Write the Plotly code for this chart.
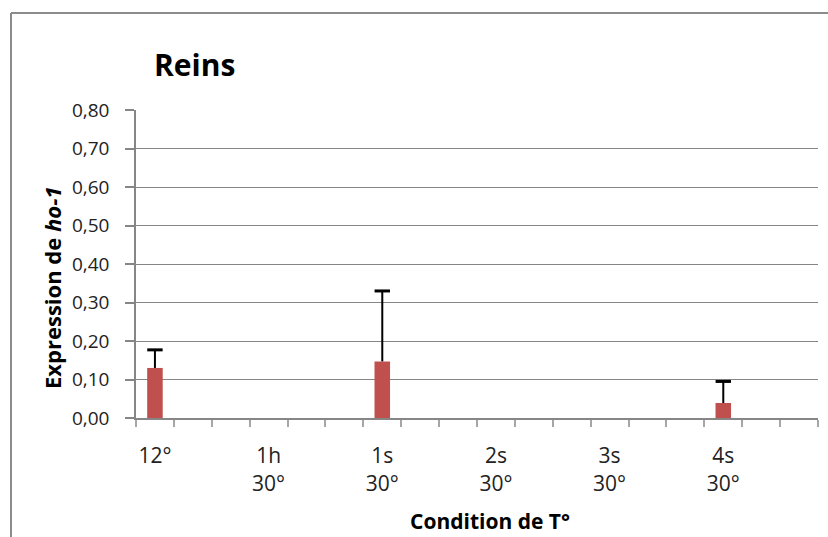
import plotly.graph_objects as go

# ---- data ----
conditions = ["12°", "1h<br>30°", "1s<br>30°", "2s<br>30°", "3s<br>30°", "4s<br>30°"]
expression = [0.13, None, 0.147, None, None, 0.039]
error_up = [0.047, None, 0.183, None, None, 0.056]
slots_per_condition = 3
n_slots = 18
y_ticks = [0.0, 0.1, 0.2, 0.3, 0.4, 0.5, 0.6, 0.7, 0.8]

FONT = "Open Sans, Liberation Sans, sans-serif"
GRID = "#868686"
BAR = "#C0504D"

pos = [i * slots_per_condition for i in range(len(conditions))]

fig = go.Figure()
fig.add_trace(go.Bar(
    x=pos, y=expression, width=0.41, marker=dict(color=BAR, line=dict(width=0)),
    hoverinfo="x+y", showlegend=False,
))

# error bars (upper only) built from the data
ex, ey, cx, cy = [], [], [], []
for p, v, e in zip(pos, expression, error_up):
    if v is None or e is None:
        continue
    ex += [p, p, None]
    ey += [v, v + e, None]
    cx.append(p)
    cy.append(v + e)
fig.add_trace(go.Scatter(x=ex, y=ey, mode="lines", line=dict(color="black", width=2),
                         showlegend=False, hoverinfo="skip"))
fig.add_trace(go.Scatter(x=cx, y=cy, mode="markers",
                         marker=dict(symbol="line-ew", size=11, line=dict(color="black", width=3)),
                         showlegend=False, hoverinfo="skip"))

fig.update_layout(
    width=828, height=537,
    margin=dict(l=136, r=10, t=110, b=119),
    paper_bgcolor="white", plot_bgcolor="white",
    separators=", ",
    font=dict(family=FONT, color="#222222"),
    xaxis=dict(
        range=[-0.5, n_slots - 0.5], tickmode="array", tickvals=pos, ticktext=conditions,
        ticks="", showgrid=False, zeroline=False,
        showline=True, linecolor=GRID, linewidth=2,
        tickfont=dict(size=21, color="#222222"), ticklabelstandoff=18,
        minor=dict(tickmode="linear", tick0=-0.5, dtick=1, ticks="outside",
                   ticklen=7, tickcolor="#a6a6a6", tickwidth=1.5, showgrid=False),
    ),
    yaxis=dict(
        range=[0, 0.8], tickmode="array", tickvals=y_ticks, tickformat=".2f",
        showgrid=True, gridcolor=GRID, gridwidth=1, zeroline=False,
        showline=True, linecolor=GRID, linewidth=1.5,
        ticks="outside", ticklen=9, tickcolor=GRID, tickwidth=1.5,
        tickfont=dict(size=19, color="#222222"), ticklabelstandoff=12,
    ),
    annotations=[
        dict(text="<b>Reins</b>", xref="paper", yref="paper",
             x=(152 - 136) / 682, y=(418 - 64) / 308, xanchor="left", yanchor="middle",
             showarrow=False, font=dict(size=30, family=FONT, color="black")),
        dict(text="<b>Expression de <i>ho-1</i></b>", xref="paper", yref="paper",
             x=(52 - 136) / 682, y=(418 - 288) / 308, xanchor="center", yanchor="middle",
             textangle=-90, showarrow=False, font=dict(size=22, family=FONT, color="black")),
        dict(text="<b>Condition de T°</b>", xref="paper", yref="paper",
             x=(490 - 136) / 682, y=(418 - 521) / 308, xanchor="center", yanchor="middle",
             showarrow=False, font=dict(size=21, family=FONT, color="black")),
    ],
    shapes=[
        dict(type="line", xref="paper", yref="paper",
             x0=(11 - 136) / 682, x1=(830 - 136) / 682,
             y0=(418 - 13) / 308, y1=(418 - 13) / 308,
             line=dict(color="#8c8c8c", width=2)),
        dict(type="line", xref="paper", yref="paper",
             x0=(11 - 136) / 682, x1=(11 - 136) / 682,
             y0=(418 - 13) / 308, y1=(418 - 540) / 308,
             line=dict(color="#8c8c8c", width=2)),
    ],
)

fig.write_html("out.html", config={"displayModeBar": False},
               post_script="document.body.style.margin='0';document.body.style.overflow='hidden';")
